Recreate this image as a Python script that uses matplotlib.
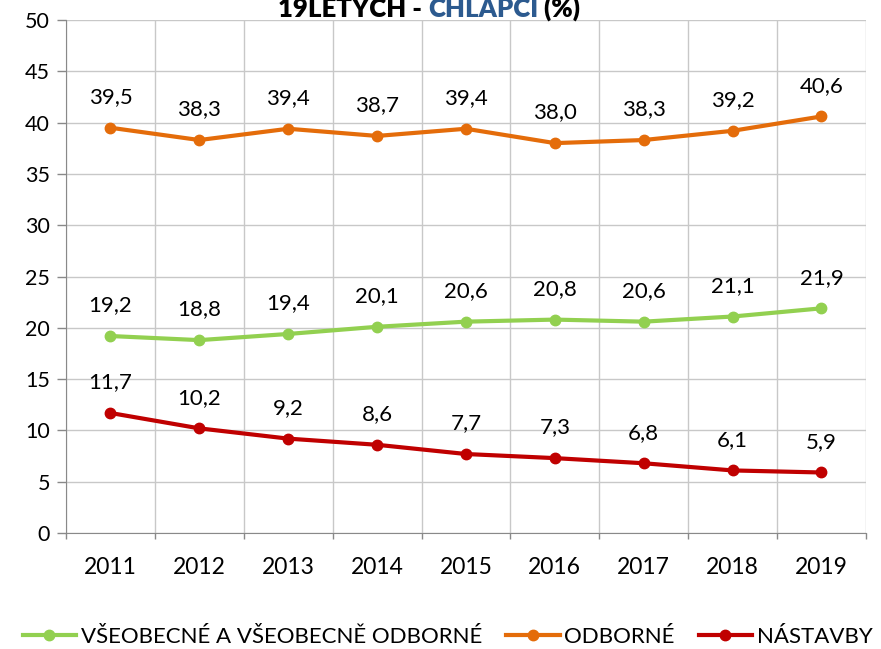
import matplotlib.pyplot as plt
from matplotlib.ticker import MultipleLocator, FixedLocator

years = ["2011", "2012", "2013", "2014", "2015", "2016", "2017", "2018", "2019"]
vseobecne = [19.2, 18.8, 19.4, 20.1, 20.6, 20.8, 20.6, 21.1, 21.9]
odborne = [39.5, 38.3, 39.4, 38.7, 39.4, 38.0, 38.3, 39.2, 40.6]
nastavby = [11.7, 10.2, 9.2, 8.6, 7.7, 7.3, 6.8, 6.1, 5.9]

names = ["VŠEOBECNÉ A VŠEOBECNĚ ODBORNÉ", "ODBORNÉ", "NÁSTAVBY"]
colors = ["#92D050", "#E46C0A", "#C00000"]

plt.rcParams['font.family'] = ['Lato', 'DejaVu Sans']

fig = plt.figure(figsize=(8.81, 6.49), dpi=100)
ax = fig.add_axes([0.0749, 0.1787, 0.908, 0.7905])

x = list(range(len(years)))
for vals, name, col in zip([vseobecne, odborne, nastavby], names, colors):
    ax.plot(x, vals, color=col, lw=3, marker='o', ms=7.5, label=name)
    for xi, v in zip(x, vals):
        ax.annotate(f"{v:.1f}".replace('.', ','), (xi, v), xytext=(0, 22),
                    textcoords='offset points', ha='center', va='center',
                    fontsize=16)

ax.set_xlim(-0.5, 8.5)
ax.set_ylim(0, 50)
ax.yaxis.set_major_locator(MultipleLocator(5))
ax.set_xticks(x)
ax.set_xticklabels(years)
ax.xaxis.set_minor_locator(FixedLocator([i - 0.5 for i in range(len(years) + 1)]))
ax.tick_params(axis='x', which='major', length=0, pad=17, labelsize=16.5)
ax.tick_params(axis='x', which='minor', length=4, color='#898989', width=1)
ax.tick_params(axis='y', length=6.5, color='#898989', width=1, labelsize=15.5, pad=5)

ax.grid(axis='y', color='#C8C8C8', lw=1)
ax.grid(axis='x', which='minor', color='#C8C8C8', lw=1)
ax.set_axisbelow(True)
for s in ['top', 'right']:
    ax.spines[s].set_visible(False)
ax.spines['left'].set_color('#898989')
ax.spines['bottom'].set_color('#898989')

# title parts, laid out one after another, cut at the top as in the source
parts = [("19LETÝCH - ", "black"), ("CHLAPCI", "#2C5A8F"), (" (%)", "black")]
fig.canvas.draw()
r = fig.canvas.get_renderer()
texts = [fig.text(0, 1 - 17 / 649, s, fontsize=18.5, fontweight='heavy', color=c,
                  ha='left', va='baseline') for s, c in parts]
widths = [t.get_window_extent(r).width for t in texts]
x0 = 429 - sum(widths) / 2
for t, w in zip(texts, widths):
    t.set_x(x0 / 881)
    x0 += w

fig.legend(loc='center', bbox_to_anchor=(0.508, 1 - 637 / 649), ncol=3, frameon=False,
           fontsize=16, handlelength=2.4, columnspacing=1.1, handletextpad=0.2)

fig.savefig("out.png", dpi=100)
